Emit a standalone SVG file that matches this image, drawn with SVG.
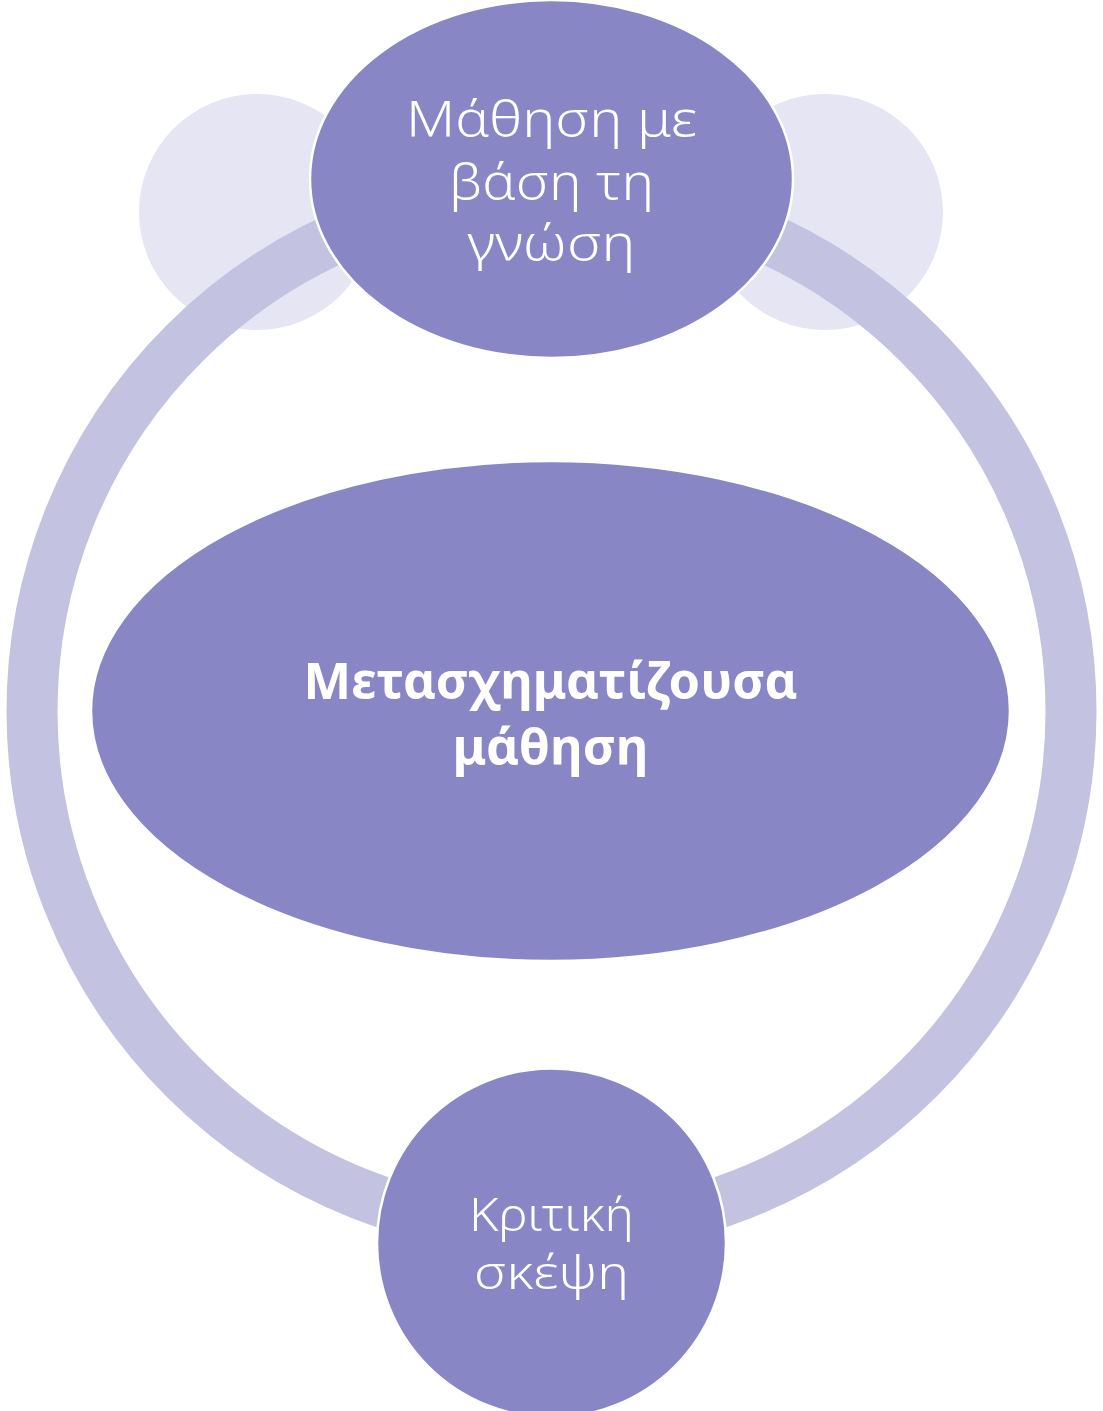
<svg xmlns="http://www.w3.org/2000/svg" width="1103" height="1411" viewBox="0 0 1103 1411">
  <style>
    .node { fill: #8886C5; stroke: #FFFFFF; stroke-width: 2.5; }
    .deco { fill: #E6E5F3; }
    .ring { fill: none; stroke: #C3C3E1; stroke-width: 51; }
    .lbl { fill: #FFFFFF; font-family: "Noto Sans", "DejaVu Sans", sans-serif; font-weight: 300; text-anchor: middle; }
    .bold { font-weight: 700; }
  </style>
  <rect width="1103" height="1411" fill="#FFFFFF"/>
  <g id="decor">
    <circle class="deco" cx="257" cy="212" r="118"/>
    <circle class="deco" cx="825" cy="212" r="118"/>
  </g>
  <g id="connectors">
    <circle class="ring" cx="551.5" cy="711" r="519.5"/>
  </g>
  <g id="node-top">
    <ellipse class="node" cx="551.5" cy="179" rx="241.5" ry="179"/>
    <text class="lbl" font-size="49" x="551.5" y="137" textLength="291" lengthAdjust="spacingAndGlyphs">Μάθηση με</text>
    <text class="lbl" font-size="49" x="551.5" y="200" textLength="205" lengthAdjust="spacingAndGlyphs">βάση τη</text>
    <text class="lbl" font-size="49" x="551.5" y="261" textLength="168" lengthAdjust="spacingAndGlyphs">γνώση</text>
  </g>
  <g id="node-center">
    <ellipse class="node" cx="550.5" cy="711" rx="459.5" ry="250"/>
    <text class="lbl bold" font-size="51" x="550.5" y="699" textLength="494" lengthAdjust="spacingAndGlyphs">Μετασχηματίζουσα</text>
    <text class="lbl bold" font-size="51" x="550.5" y="765" textLength="196" lengthAdjust="spacingAndGlyphs">μάθηση</text>
  </g>
  <g id="node-bottom">
    <circle class="node" cx="551.5" cy="1243" r="174.5"/>
    <text class="lbl" font-size="46" x="551.5" y="1231" textLength="165" lengthAdjust="spacingAndGlyphs">Κριτική</text>
    <text class="lbl" font-size="46" x="551.5" y="1289" textLength="155" lengthAdjust="spacingAndGlyphs">σκέψη</text>
  </g>
</svg>
